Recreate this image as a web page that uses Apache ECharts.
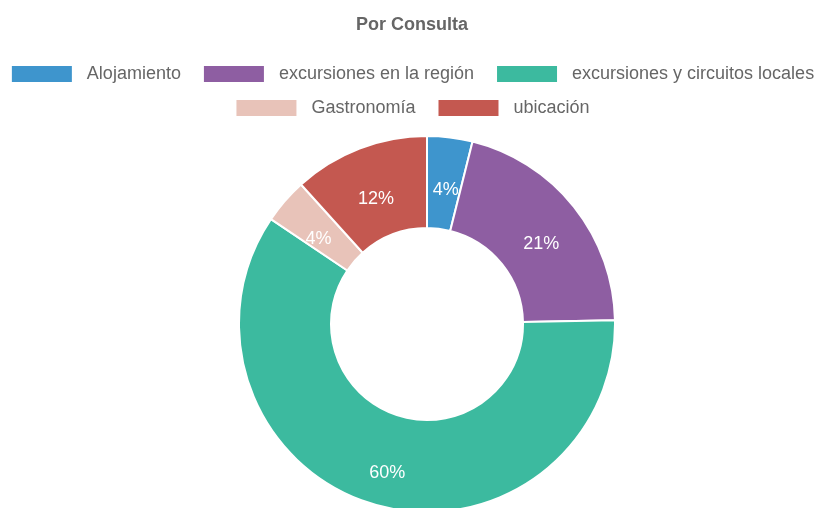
<!DOCTYPE html>
<html><head><meta charset="utf-8">
<script src="https://cdn.jsdelivr.net/npm/echarts@6/dist/echarts.min.js"></script>
<style>html,body{margin:0;padding:0;background:#fff}#c{width:824px;height:508px}</style>
</head><body><div id="c"></div>
<script>
const categories = ['Alojamiento', 'excursiones en la región', 'excursiones y circuitos locales', 'Gastronomía', 'ubicación'];
const values = [3, 16, 46, 3, 9];
const colors = ['#3e95cd', '#8e5ea2', '#3cba9f', '#e8c3b9', '#c45850'];
const titleText = 'Por Consulta';

const total = values.reduce((a, b) => a + b, 0);
const font = '"Liberation Sans", Arial, sans-serif';
const chart = echarts.init(document.getElementById('c'), null, {renderer: 'canvas'});
const legendCommon = {
  orient: 'horizontal', itemWidth: 62, itemHeight: 18, itemGap: 21,
  icon: 'rect',
  textStyle: {color: '#666', fontSize: 18, fontFamily: font, padding: [0, 0, 0, 9]},
  selectedMode: false
};
chart.setOption({
  animation: false,
  title: {text: titleText, left: 'center', top: 11,
    textStyle: {color: '#666', fontSize: 18, fontWeight: 'bold', fontFamily: font}},
  legend: [
    Object.assign({}, legendCommon, {data: categories.slice(0, 3), left: 'center', top: 59}),
    Object.assign({}, legendCommon, {data: categories.slice(3), left: 'center', top: 93})
  ],
  series: [{
    type: 'pie',
    center: [427, 324],
    radius: [96, 188],
    startAngle: 90,
    clockwise: true,
    avoidLabelOverlap: false,
    itemStyle: {borderColor: '#fff', borderWidth: 2},
    label: {
      show: true, position: 'inside', color: '#fff', fontSize: 18, fontFamily: font,
      offset: [1, 10],
      formatter: p => Math.round(p.value / total * 100) + '%'
    },
    labelLine: {show: false},
    emphasis: {disabled: true},
    data: categories.map((c, i) => ({name: c, value: values[i], itemStyle: {color: colors[i]}}))
  }]
});
</script></body></html>
